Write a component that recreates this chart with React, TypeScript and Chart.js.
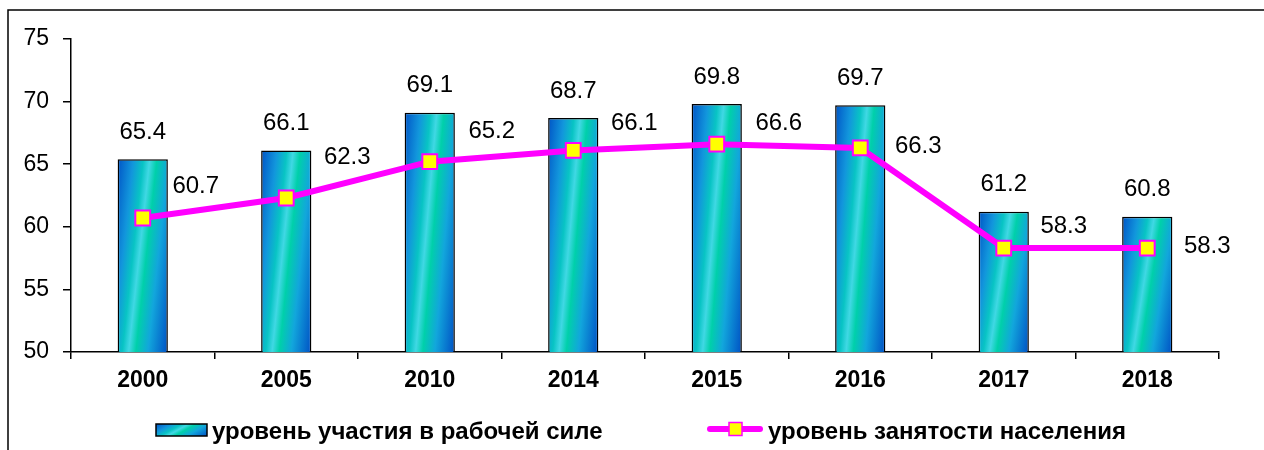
import React, { useEffect, useRef } from "react";
import { Chart, registerables } from "chart.js";

Chart.register(...registerables);

const years = ["2000", "2005", "2010", "2014", "2015", "2016", "2017", "2018"];
const participation = [65.4, 66.1, 69.1, 68.7, 69.8, 69.7, 61.2, 60.8];
const employment = [60.7, 62.3, 65.2, 66.1, 66.6, 66.3, 58.3, 58.3];
const yTicks = [50, 55, 60, 65, 70, 75];
const legendLabels = ["уровень участия в рабочей силе", "уровень занятости населения"];
// label offsets (px) for the line's value labels, relative to each point
const lineLabelOffsets = [
  [53, -32], [61, -41], [62, -30], [61, -27], [62, -21], [58, -2], [60, -22], [60, -2],
];

const FONT = "Arial, 'Liberation Sans', sans-serif";
const MAGENTA = "#ff00ff";
const YELLOW = "#ffff00";
const BAR_FRAC = 0.35;

function barGradient(ctx: CanvasRenderingContext2D, left: number, top: number, w: number, h: number) {
  const hh = Math.max(h, 1);
  const a = 1 / (1.42 * w);
  const b = 0.42 / (1.42 * hh);
  const n2 = a * a + b * b;
  const g = ctx.createLinearGradient(left, top, left + a / n2, top + b / n2);
  g.addColorStop(0, "#0054c6");
  g.addColorStop(0.22, "#1296dc");
  g.addColorStop(0.36, "#08c4c4");
  g.addColorStop(0.45, "#40d8e4");
  g.addColorStop(0.55, "#00d0aa");
  g.addColorStop(0.72, "#12a6dc");
  g.addColorStop(1, "#0050c4");
  return g;
}

const decor = {
  id: "decor",
  beforeDraw(chart: any) {
    const ctx = chart.ctx as CanvasRenderingContext2D;
    ctx.save();
    ctx.fillStyle = "#ffffff";
    ctx.fillRect(0, 0, chart.width, chart.height);
    ctx.strokeStyle = "#000";
    ctx.lineWidth = 1.5;
    ctx.beginPath();
    ctx.moveTo(8, chart.height);
    ctx.lineTo(8, 10);
    ctx.lineTo(chart.width, 10);
    ctx.stroke();
    ctx.restore();
  },
  afterDatasetsDraw(chart: any) {
    const ctx = chart.ctx as CanvasRenderingContext2D;
    const xs = chart.scales.x;
    const ys = chart.scales.y;
    ctx.save();
    ctx.fillStyle = "#000";
    ctx.font = `24px ${FONT}`;
    ctx.textAlign = "center";
    ctx.textBaseline = "middle";
    participation.forEach((v, i) => {
      const x = xs.getPixelForValue(i);
      const y = ys.getPixelForValue(v);
      ctx.fillText(v.toFixed(1), x, y - 27);
    });
    employment.forEach((v, i) => {
      const x = xs.getPixelForValue(i);
      const y = ys.getPixelForValue(v);
      const [dx, dy] = lineLabelOffsets[i];
      ctx.fillText(v.toFixed(1), x + dx, y + dy);
    });
    ctx.restore();
  },
  afterDraw(chart: any) {
    const ctx = chart.ctx as CanvasRenderingContext2D;
    ctx.save();
    // bar legend swatch
    const sx = 156, sy = 424, sw = 51, sh = 12;
    ctx.fillStyle = barGradient(ctx, sx, sy, sw, sh);
    ctx.fillRect(sx, sy, sw, sh);
    ctx.strokeStyle = "#000";
    ctx.lineWidth = 1.5;
    ctx.strokeRect(sx, sy, sw, sh);
    ctx.fillStyle = "#000";
    ctx.font = `bold 24px ${FONT}`;
    ctx.textAlign = "left";
    ctx.textBaseline = "middle";
    ctx.fillText(legendLabels[0], 212, 432);
    // line legend swatch
    ctx.strokeStyle = MAGENTA;
    ctx.lineWidth = 6;
    ctx.lineCap = "round";
    ctx.beginPath();
    ctx.moveTo(710, 429);
    ctx.lineTo(760, 429);
    ctx.stroke();
    ctx.fillStyle = YELLOW;
    ctx.fillRect(729, 422.5, 13, 13);
    ctx.strokeStyle = MAGENTA;
    ctx.lineWidth = 1.5;
    ctx.strokeRect(729, 422.5, 13, 13);
    ctx.fillStyle = "#000";
    ctx.fillText(legendLabels[1], 768, 432);
    ctx.restore();
  },
};

export default function App() {
  const ref = useRef<HTMLCanvasElement | null>(null);
  useEffect(() => {
    if (!ref.current) return;
    const chart = new Chart(ref.current, {
      type: "bar",
      data: {
        labels: years,
        datasets: [
          {
            type: "line",
            label: legendLabels[1],
            data: employment,
            borderColor: MAGENTA,
            borderWidth: 6,
            backgroundColor: YELLOW,
            pointStyle: "rect",
            pointRadius: 10.5,
            pointBorderWidth: 2,
            pointBorderColor: MAGENTA,
            pointBackgroundColor: YELLOW,
            tension: 0,
            order: 0,
          } as any,
          {
            type: "bar",
            label: legendLabels[0],
            data: participation,
            borderColor: "#000",
            borderWidth: 1.5,
            barPercentage: BAR_FRAC,
            categoryPercentage: 1,
            order: 1,
            backgroundColor: (c: any) => {
              const ch = c.chart;
              if (!ch.chartArea || c.dataIndex === undefined) return "#10b0d0";
              const xs = ch.scales.x;
              const ys = ch.scales.y;
              const cx = xs.getPixelForValue(c.dataIndex);
              const w = (xs.width / years.length) * BAR_FRAC;
              const top = ys.getPixelForValue(participation[c.dataIndex]);
              const bottom = ys.getPixelForValue(ys.min);
              return barGradient(ch.ctx, cx - w / 2, top, w, bottom - top);
            },
          } as any,
        ],
      },
      options: {
        responsive: false,
        animation: false,
        devicePixelRatio: 1,
        layout: { padding: { left: 0, top: 39, right: 45, bottom: 0 } },
        plugins: { legend: { display: false }, tooltip: { enabled: false } },
        scales: {
          x: {
            grid: { offset: true, drawOnChartArea: false, tickLength: 7, color: "#000", lineWidth: 1.5 },
            border: { color: "#000", width: 1.5 },
            ticks: { color: "#000", font: { family: FONT, size: 23, weight: "bold" }, padding: 8 },
            afterFit: (s: any) => {
              s.height = 98;
            },
          },
          y: {
            min: 50,
            max: 75,
            afterBuildTicks: (s: any) => {
              s.ticks = yTicks.map((v) => ({ value: v }));
            },
            grid: { drawOnChartArea: false, tickLength: 8, color: "#000", lineWidth: 1.5 },
            border: { color: "#000", width: 1.5 },
            ticks: { color: "#000", font: { family: FONT, size: 23 }, padding: 14 },
            afterFit: (s: any) => {
              s.width = 71;
            },
          },
        },
      } as any,
      plugins: [decor],
    });
    return () => chart.destroy();
  }, []);
  return (
    <div style={{ position: "absolute", left: 0, top: 0, width: 1264, height: 450 }}>
      <canvas ref={ref} width={1264} height={450} style={{ display: "block" }} />
    </div>
  );
}
